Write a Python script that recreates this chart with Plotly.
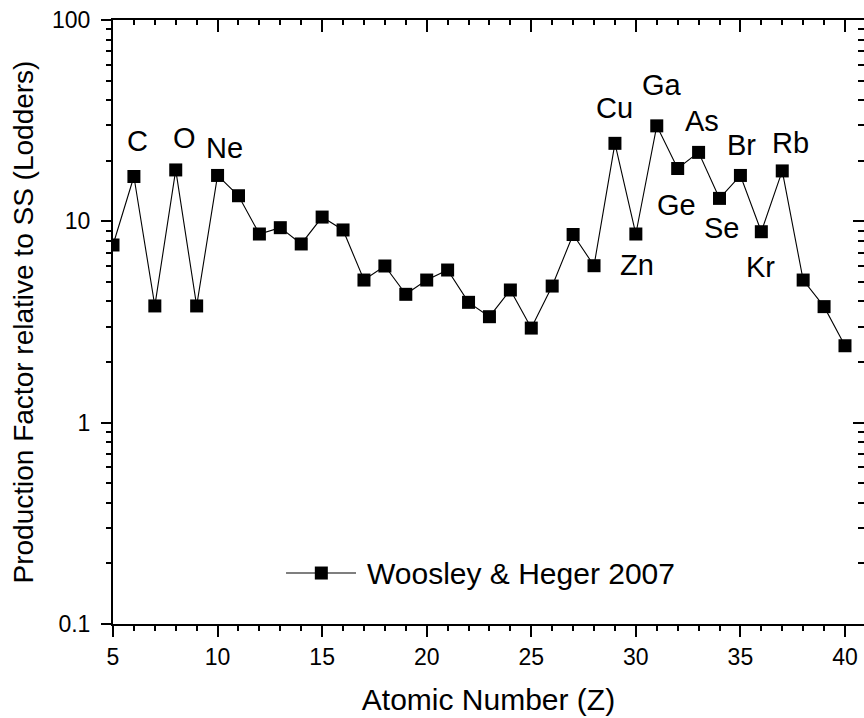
import math
import plotly.graph_objects as go

# Production factors (relative to solar system, Lodders) vs atomic number
atomic_number = list(range(5, 41))
production_factor = [7.63, 16.7, 3.8, 18.0, 3.8, 16.9, 13.4, 8.65, 9.3, 7.72, 10.5, 9.06,
                     5.11, 6.0, 4.34, 5.11, 5.73, 3.96, 3.36, 4.56, 2.95, 4.77, 8.6, 6.02,
                     24.4, 8.65, 29.8, 18.3, 22.0, 13.0, 16.9, 8.88, 17.8, 5.11, 3.77, 2.41]
series_name = "Woosley & Heger 2007"

# Element symbols written next to selected points
element_labels = ["C", "O", "Ne", "Cu", "Zn", "Ga", "Ge", "As", "Se", "Br", "Kr", "Rb"]
element_z = [6, 8, 10, 29, 30, 31, 32, 33, 34, 35, 36, 37]

x_tick_start, x_tick_step, x_minor_step = 5, 5, 1
y_ticks = [0.1, 1, 10, 100]
y_tick_text = ["0.1", "1", "10", "100"]
y_minor = [m * 10 ** e for e in (-1, 0, 1) for m in range(2, 10)]

# pixel offsets of each element label from its point (dx, dy upward)
label_offsets = {
    "C": (4, 35), "O": (9, 32), "Ne": (7, 27), "Cu": (0, 35), "Zn": (1, -31),
    "Ga": (5, 41), "Ge": (-1, -37), "As": (3, 31), "Se": (2, -30), "Br": (1, 30),
    "Kr": (-1, -35), "Rb": (8, 28),
}

FONT = "Liberation Sans, Arial, sans-serif"
TEXT_SIZE = 29
X_RANGE = [5, 40.909]
Y_RANGE = [-1, 2]

fig = go.Figure()
fig.add_trace(go.Scatter(
    x=atomic_number, y=production_factor, mode="lines+markers", name=series_name,
    line=dict(color="black", width=1.1),
    marker=dict(symbol="square", size=13, color="black"),
    showlegend=False,
))
# the same series, invisible, on the extra axes used for mirrored and minor x ticks
for xa in ("x2", "x3", "x4"):
    fig.add_trace(go.Scatter(x=atomic_number, y=production_factor, xaxis=xa, yaxis="y2",
                             mode="markers", marker=dict(opacity=0), showlegend=False,
                             hoverinfo="skip"))

z_to_value = dict(zip(atomic_number, production_factor))
for sym, z in zip(element_labels, element_z):
    dx, dy = label_offsets[sym]
    fig.add_annotation(
        x=z, y=math.log10(z_to_value[z]), xref="x", yref="y", text=sym, showarrow=False,
        xshift=dx, yshift=dy, font=dict(family=FONT, size=TEXT_SIZE, color="black"),
        xanchor="center", yanchor="middle",
    )

# legend key drawn by hand: line, square marker and label
leg_y = 0.0844
fig.add_shape(type="line", xref="paper", yref="paper", x0=0.2304, x1=0.3236, y0=leg_y, y1=leg_y,
              line=dict(color="black", width=1.1))
fig.add_shape(type="rect", xref="paper", yref="paper", xsizemode="pixel", ysizemode="pixel",
              xanchor=0.2774, yanchor=leg_y, x0=-6.5, x1=6.5, y0=-6.5, y1=6.5,
              fillcolor="black", line=dict(width=0))
fig.add_annotation(x=0.3356, y=leg_y, xref="paper", yref="paper", text=series_name,
                   showarrow=False, xanchor="left", yanchor="middle",
                   font=dict(family=FONT, size=TEXT_SIZE + 1, color="black"))

tick_style = dict(tickwidth=2, tickcolor="black", showgrid=False, zeroline=False)

fig.update_layout(
    width=864, height=718, autosize=False,
    margin=dict(l=113, r=0, t=20, b=94),
    paper_bgcolor="white", plot_bgcolor="white",
    font=dict(family=FONT, color="black"),
    # bottom axis: labelled major ticks
    xaxis=dict(
        range=X_RANGE, tickmode="linear", tick0=x_tick_start, dtick=x_tick_step,
        ticks="outside", ticklen=11, tickfont=dict(size=23),
        showline=True, linewidth=2, linecolor="black",
        title=dict(text="Atomic Number (Z)", font=dict(size=TEXT_SIZE + 1), standoff=20),
        **tick_style,
    ),
    # top axis: inward major ticks
    xaxis2=dict(
        range=X_RANGE, overlaying="x", side="top", anchor="y2", tickmode="linear",
        tick0=x_tick_start, dtick=x_tick_step, ticks="inside", ticklen=12,
        showticklabels=False, showline=True, linewidth=2, linecolor="black",
        **tick_style,
    ),
    # bottom minor ticks
    xaxis3=dict(
        range=X_RANGE, overlaying="x", side="bottom", anchor="y2", tickmode="linear",
        tick0=x_tick_start, dtick=x_minor_step, ticks="outside", ticklen=6,
        showticklabels=False, showline=False,
        **tick_style,
    ),
    # top minor ticks
    xaxis4=dict(
        range=X_RANGE, overlaying="x", side="top", anchor="y2", tickmode="linear",
        tick0=x_tick_start, dtick=x_minor_step, ticks="inside", ticklen=5,
        showticklabels=False, showline=False,
        **tick_style,
    ),
    yaxis=dict(
        type="log", range=Y_RANGE, tickvals=y_ticks, ticktext=y_tick_text,
        ticks="outside", ticklen=10, tickfont=dict(size=23), ticklabelstandoff=6,
        showline=True, linewidth=2, linecolor="black",
        minor=dict(tickmode="array", tickvals=y_minor, ticks="outside", ticklen=5,
                   tickwidth=2, tickcolor="black"),
        title=dict(text="Production Factor relative to SS (Lodders)", font=dict(size=28),
                   standoff=10),
        **tick_style,
    ),
    yaxis2=dict(
        type="log", range=Y_RANGE, overlaying="y", side="right", anchor="x2",
        tickvals=y_ticks, ticks="inside", ticklen=11,
        showticklabels=False, showline=False,
        minor=dict(tickmode="array", tickvals=y_minor, ticks="inside", ticklen=6,
                   tickwidth=2, tickcolor="black"),
        **tick_style,
    ),
)

fig.write_html("out.html")
